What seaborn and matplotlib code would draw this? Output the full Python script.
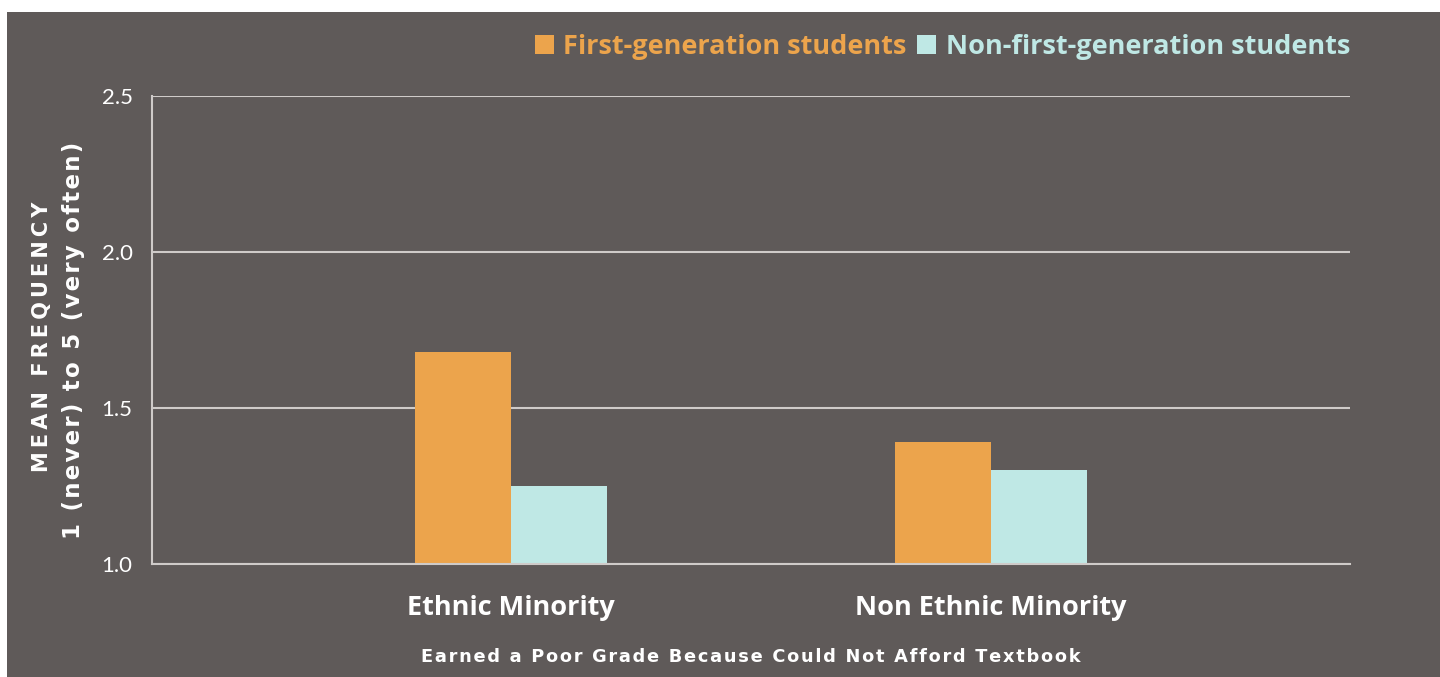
import matplotlib
matplotlib.use("Agg")
import matplotlib.pyplot as plt
from matplotlib.patches import Rectangle, Patch
import seaborn as sns
import pandas as pd

# Mean frequency, 1 (never) to 5 (very often)
groups = ["Ethnic Minority", "Non Ethnic Minority"]
series = ["First-generation students", "Non-first-generation students"]
first_gen = [1.68, 1.39]
non_first_gen = [1.25, 1.30]
y_ticks = [1.0, 1.5, 2.0, 2.5]

BG = "#5f5a59"
GRID = "#cfcbc9"
ORANGE = "#eca44c"
TEAL = "#bfe8e5"
WHITE = "#ffffff"

df = pd.DataFrame({
    "group": groups * 2,
    "series": [series[0]] * len(groups) + [series[1]] * len(groups),
    "value": first_gen + non_first_gen,
})

sns.set_theme(style="white")
plt.rcParams["font.family"] = ["Open Sans", "DejaVu Sans"]

W, H = 1440, 677
fig = plt.figure(figsize=(W / 100, H / 100), dpi=100)
fig.patch.set_facecolor("white")
fig.patches.append(Rectangle((7 / W, 0), 1 - 7 / W, (H - 12) / H,
                             transform=fig.transFigure, facecolor=BG,
                             edgecolor="none", zorder=-10))

ax = fig.add_axes([152 / W, 1 - 564 / H, (1350 - 152) / W, (564 - 96) / H])
ax.set_facecolor("none")

sns.barplot(data=df, x="group", y="value", hue="series", order=groups,
            hue_order=series, palette=[ORANGE, TEAL], width=0.4,
            dodge=True, saturation=1, ax=ax, zorder=3,
            linewidth=0, legend=False)

# bars start at the axis floor of 1.0
for bar in ax.patches:
    h = bar.get_height()
    bar.set_y(1.0)
    bar.set_height(h - 1.0)

ax.set_ylim(1.0, 2.5)
ax.set_xlim(-0.748, 1.748)
ax.set_yticks(y_ticks)
ax.set_yticklabels([f"{t:.1f}" for t in y_ticks], color=WHITE,
                   fontsize=16, fontweight="normal",
                   family=["Lato", "DejaVu Sans"])
ax.tick_params(axis="y", length=0, pad=14)
ax.tick_params(axis="x", length=0, pad=22)
for lbl in ax.get_xticklabels():
    lbl.set_color(WHITE)
    lbl.set_fontsize(19.5)
    lbl.set_fontweight("bold")

ax.grid(axis="y", color=GRID, linewidth=1.5, zorder=1)
ax.grid(axis="x", visible=False)
for side in ["top", "right"]:
    ax.spines[side].set_visible(False)
for side in ["left", "bottom"]:
    ax.spines[side].set_color(GRID)
    ax.spines[side].set_linewidth(1.5)
    ax.spines[side].set_zorder(4)

ax.set_xlabel("")
ax.set_ylabel("")


def spaced(s, sep="\u200a"):
    return sep.join(s)


fig.text(751 / W, 1 - 657 / H,
         spaced("Earned a Poor Grade Because Could Not Afford Textbook"),
         color=WHITE, fontsize=12.8, fontweight="bold", ha="center", va="center",
         family=["DejaVu Sans"])

fig.text(42 / W, 1 - 337 / H, spaced("MEAN FREQUENCY", "\u2009"), rotation=90,
         color=WHITE, fontsize=15, fontweight="bold", ha="center", va="center",
         family=["DejaVu Sans"])
fig.text(74 / W, 1 - 340 / H, spaced("1 (never) to 5 (very often)"), rotation=90,
         color=WHITE, fontsize=16.5, fontweight="bold", ha="center", va="center",
         family=["DejaVu Sans"])

handles = [Patch(facecolor=ORANGE, edgecolor="none"),
           Patch(facecolor=TEAL, edgecolor="none")]
leg = fig.legend(handles, series, loc="center right",
                 bbox_to_anchor=(1350 / W, 1 - 47 / H), ncol=2, frameon=False,
                 handlelength=0.7, handleheight=0.7, handletextpad=0.35,
                 columnspacing=0.4, borderpad=0, borderaxespad=0,
                 prop={"family": ["Open Sans", "DejaVu Sans"], "weight": "bold",
                       "size": 19.5})
for txt, col in zip(leg.get_texts(), [ORANGE, TEAL]):
    txt.set_color(col)

fig.savefig("out.png", dpi=100, facecolor=fig.get_facecolor())
